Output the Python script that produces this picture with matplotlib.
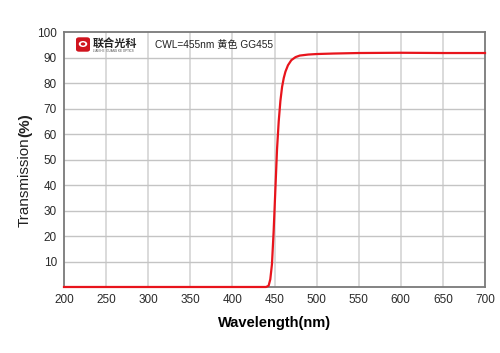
import matplotlib
matplotlib.use("Agg")
from matplotlib import pyplot as plt
from matplotlib.patches import FancyBboxPatch, Circle

plt.rcParams['font.family'] = ['Liberation Sans', 'Noto Sans CJK SC', 'DejaVu Sans']

# transmission curve
wavelength = [200, 300, 400, 440, 443, 445, 447, 449, 451, 453, 455, 457, 459,
              461, 463, 466, 470, 475, 480, 490, 500, 520, 550, 600, 650, 700]
transmission = [0, 0, 0, 0, 0.5, 3, 9, 22, 38, 54, 65, 73, 78.5,
                82, 84.5, 87, 89, 90.2, 90.8, 91.2, 91.4, 91.6, 91.8, 91.9, 91.8, 91.8]

xticks = [200, 250, 300, 350, 400, 450, 500, 550, 600, 650, 700]
yticks = [10, 20, 30, 40, 50, 60, 70, 80, 90, 100]
ytick_labels = ['10', '20', '30', '40', '50', '60', '70', '80', '90', '100']
note = "CWL=455nm 黄色 GG455"

fig = plt.figure(figsize=(5, 3.53), dpi=100)
ax = fig.add_axes([0.128, 0.187, 0.842, 0.722])

# grid: vertical lighter/wider, horizontal thinner/darker
for x in xticks[1:-1]:
    ax.axvline(x, color='#dadada', lw=1.4, zorder=0)
for y in yticks[:-1]:
    ax.axhline(y, color='#c4c4c4', lw=1.0, zorder=0)

ax.plot(wavelength, transmission, color='#e8141c', lw=1.6, zorder=3, clip_on=False)

ax.set_xlim(200, 700)
ax.set_ylim(0, 100)
ax.set_xticks(xticks)
ax.set_yticks(yticks)
ax.set_yticklabels(ytick_labels)
ax.tick_params(length=0, labelsize=8.5, colors='#2a2a2a', pad=5)
for s in ax.spines.values():
    s.set_color('#7a7a7a')
    s.set_linewidth(1.3)

ax.set_xlabel('Wavelength(nm)', fontsize=10.5, fontweight='bold', labelpad=7)

# y label: regular text plus bold (%) placed right after it
t1 = fig.text(0.05, 1 - 227 / 353, 'Transmission', rotation=90, fontsize=11,
              ha='center', va='bottom', color='#222222')
fig.canvas.draw()
bb = t1.get_window_extent(fig.canvas.get_renderer()).transformed(fig.transFigure.inverted())
fig.text(0.05, bb.y1, '(%)', rotation=90, fontsize=11, fontweight='bold',
         ha='center', va='bottom', color='#222222')

# logo + note
logo = FancyBboxPatch((77 / 500, 1 - 51 / 353), 12 / 500, 13 / 353,
                      boxstyle='round,pad=0.002,rounding_size=0.006',
                      transform=fig.transFigure, fc='#d0141e', ec='none', zorder=5)
fig.patches.append(logo)
fig.patches.append(Circle((83 / 500, 1 - 44 / 353), 0.0085, transform=fig.transFigure,
                          fc='white', ec='none', zorder=6))
fig.patches.append(Circle((83 / 500, 1 - 44 / 353), 0.0045, transform=fig.transFigure,
                          fc='#d0141e', ec='none', zorder=7))
fig.text(93 / 500, 1 - 43 / 353, '联合光科', fontsize=8, fontweight='bold',
         ha='left', va='center', color='#222222')
fig.text(93 / 500, 1 - 50.5 / 353, 'LIAN HE  GUANG KE OPTICS', fontsize=2.2,
         ha='left', va='center', color='#444444')
fig.text(155 / 500, 1 - 45 / 353, note, fontsize=7.3, ha='left', va='center',
         color='#222222')

fig.savefig('out.png', dpi=100)
